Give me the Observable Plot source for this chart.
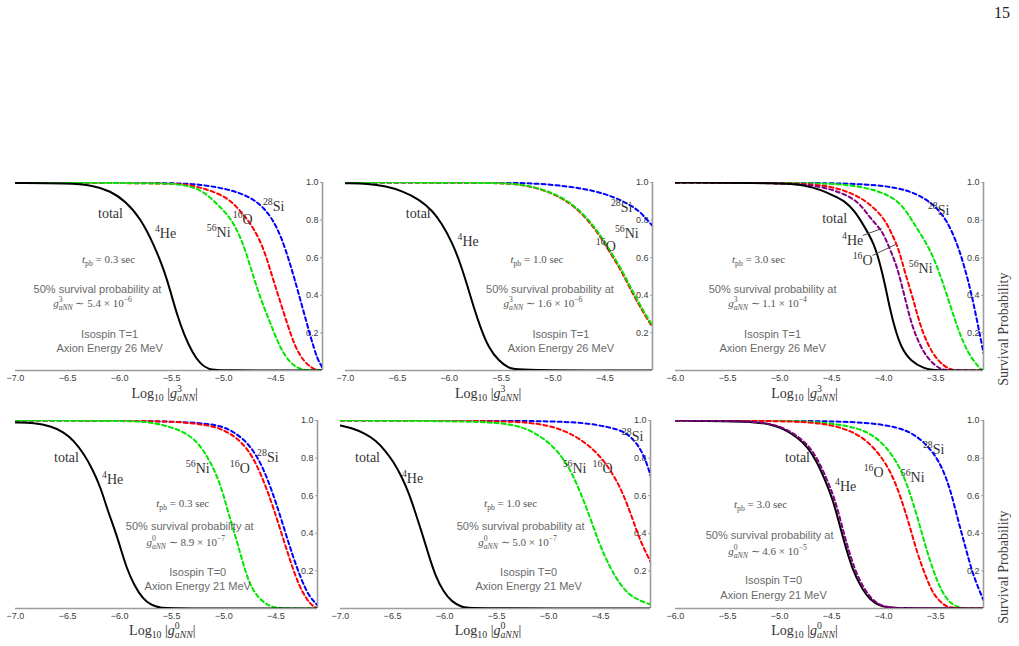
<!DOCTYPE html>
<html>
<head>
<meta charset="utf-8">
<script src="https://cdn.jsdelivr.net/npm/d3@7"></script>
<script src="https://cdn.jsdelivr.net/npm/@observablehq/plot@0.6"></script>
<style>
  html, body { margin: 0; background: #fff; }
  #page { position: relative; width: 1019px; height: 646px; background: #fff; overflow: hidden; }
  #page > svg { position: absolute; }
  #pageno { position: absolute; right: 9px; top: 4px; font: 16px "Liberation Serif", "Times New Roman", serif; color: #222; }
</style>
</head>
<body>
<div id="page"><div id="pageno">15</div></div>
<script>
// ---------------------------------------------------------------
// Survival probability vs. log10 of the axion-nucleon coupling,
// pairs are [log10 |g|, probability].
// ---------------------------------------------------------------

// Isospin T=1, axion energy 26 MeV, t_pb = 0.3 s
const T1_03_total = [[-7,0.997],[-6.5,0.996],[-6.25,0.985],[-6.09,0.955],[-5.94,0.90],[-5.80,0.81],[-5.67,0.67],[-5.57,0.53],[-5.51,0.42],[-5.45,0.30],[-5.38,0.19],[-5.30,0.094],[-5.22,0.032],[-5.14,0.005],[-5.05,0],[-4.05,0]];
const T1_03_Ni56 = [[-7,1],[-5.6,0.997],[-5.41,0.99],[-5.22,0.965],[-5.09,0.90],[-4.96,0.83],[-4.87,0.75],[-4.79,0.64],[-4.71,0.49],[-4.63,0.36],[-4.55,0.25],[-4.45,0.11],[-4.36,0.04],[-4.28,0.01],[-4.2,0],[-4.05,0]];
const T1_03_O16 = [[-7,1],[-5.54,0.996],[-5.35,0.99],[-5.16,0.965],[-4.96,0.92],[-4.84,0.85],[-4.71,0.76],[-4.61,0.64],[-4.55,0.53],[-4.47,0.39],[-4.39,0.25],[-4.31,0.12],[-4.23,0.05],[-4.16,0.015],[-4.1,0.002],[-4.05,0]];
const T1_03_Si28 = [[-7,1],[-5.5,0.999],[-5.22,0.99],[-4.96,0.965],[-4.77,0.93],[-4.61,0.87],[-4.48,0.76],[-4.39,0.62],[-4.32,0.49],[-4.24,0.33],[-4.16,0.17],[-4.10,0.06],[-4.05,0.015]];

// Isospin T=1, t_pb = 1.0 s
const T1_10_total = [[-7,0.996],[-6.78,0.995],[-6.61,0.98],[-6.45,0.955],[-6.29,0.91],[-6.16,0.85],[-6.07,0.78],[-5.97,0.68],[-5.89,0.565],[-5.83,0.46],[-5.76,0.33],[-5.70,0.23],[-5.62,0.12],[-5.52,0.05],[-5.43,0.014],[-5.35,0],[-4.04,0]];
const T1_10_O16 = [[-7,1],[-5.75,0.999],[-5.5,0.996],[-5.31,0.99],[-5.11,0.965],[-4.92,0.92],[-4.79,0.87],[-4.66,0.80],[-4.54,0.71],[-4.44,0.62],[-4.34,0.53],[-4.26,0.44],[-4.18,0.36],[-4.12,0.30],[-4.04,0.23]];
const T1_10_Ni56 = [[-7,1],[-5.75,0.999],[-5.49,0.996],[-5.30,0.99],[-5.10,0.965],[-4.91,0.92],[-4.78,0.87],[-4.65,0.80],[-4.53,0.71],[-4.43,0.62],[-4.33,0.53],[-4.25,0.44],[-4.17,0.36],[-4.11,0.30],[-4.04,0.24]];
const T1_10_Si28 = [[-7,1],[-5.5,0.999],[-5.17,0.996],[-4.85,0.98],[-4.59,0.955],[-4.40,0.92],[-4.27,0.885],[-4.17,0.85],[-4.09,0.80],[-4.04,0.77]];

// Isospin T=1, t_pb = 3.0 s
const T1_30_total = [[-6,1],[-4.95,0.997],[-4.75,0.985],[-4.6,0.96],[-4.48,0.93],[-4.38,0.904],[-4.28,0.85],[-4.19,0.771],[-4.09,0.674],[-4.03,0.559],[-3.98,0.44],[-3.94,0.33],[-3.89,0.22],[-3.83,0.12],[-3.74,0.05],[-3.61,0.01],[-3.52,0],[-3.04,0]];
const T1_30_He4 = [[-6,1],[-4.9,0.998],[-4.61,0.98],[-4.41,0.947],[-4.24,0.9],[-4.13,0.81],[-4.03,0.754],[-3.98,0.70],[-3.92,0.62],[-3.87,0.55],[-3.80,0.40],[-3.74,0.26],[-3.66,0.14],[-3.56,0.05],[-3.45,0.005],[-3.39,0],[-3.04,0]];
const T1_30_O16 = [[-6,1],[-4.8,0.998],[-4.51,0.98],[-4.32,0.947],[-4.16,0.9],[-4.0,0.816],[-3.92,0.727],[-3.85,0.638],[-3.80,0.53],[-3.72,0.39],[-3.66,0.26],[-3.58,0.14],[-3.48,0.05],[-3.37,0.005],[-3.30,0],[-3.04,0]];
const T1_30_Ni56 = [[-6,1],[-4.7,0.998],[-4.35,0.99],[-4.06,0.96],[-3.85,0.903],[-3.74,0.81],[-3.66,0.74],[-3.55,0.64],[-3.47,0.53],[-3.39,0.40],[-3.31,0.26],[-3.23,0.14],[-3.15,0.06],[-3.07,0.008],[-3.04,0]];
const T1_30_Si28 = [[-6,1],[-4.6,0.999],[-4.13,0.99],[-3.87,0.973],[-3.68,0.94],[-3.52,0.885],[-3.39,0.80],[-3.29,0.67],[-3.23,0.565],[-3.16,0.42],[-3.10,0.26],[-3.04,0.094]];

// Isospin T=0, axion energy 21 MeV, t_pb = 0.3 s
const T0_03_total = [[-7,0.99],[-6.82,0.988],[-6.66,0.97],[-6.54,0.94],[-6.44,0.894],[-6.34,0.82],[-6.26,0.74],[-6.18,0.64],[-6.12,0.53],[-6.05,0.425],[-5.99,0.32],[-5.93,0.21],[-5.86,0.124],[-5.78,0.053],[-5.70,0.018],[-5.61,0.003],[-5.5,0],[-4.1,0]];
const T0_03_Ni56 = [[-7,1],[-5.86,0.998],[-5.70,0.99],[-5.54,0.97],[-5.38,0.94],[-5.25,0.885],[-5.16,0.81],[-5.08,0.726],[-5.01,0.62],[-4.95,0.496],[-4.88,0.37],[-4.82,0.25],[-4.76,0.14],[-4.68,0.062],[-4.58,0.018],[-4.50,0],[-4.1,0]];
const T0_03_O16 = [[-7,1],[-5.7,0.999],[-5.38,0.99],[-5.22,0.98],[-5.06,0.965],[-4.90,0.92],[-4.77,0.85],[-4.68,0.76],[-4.60,0.655],[-4.52,0.53],[-4.44,0.39],[-4.36,0.25],[-4.28,0.124],[-4.20,0.044],[-4.14,0.01],[-4.1,0.003]];
const T0_03_Si28 = [[-7,1],[-5.7,0.999],[-5.22,0.988],[-5.03,0.972],[-4.90,0.94],[-4.76,0.876],[-4.66,0.79],[-4.58,0.69],[-4.50,0.566],[-4.42,0.425],[-4.34,0.283],[-4.26,0.16],[-4.18,0.062],[-4.10,0.018]];

// Isospin T=0, t_pb = 1.0 s
const T0_10_total = [[-7,0.973],[-6.89,0.96],[-6.76,0.93],[-6.66,0.894],[-6.57,0.84],[-6.49,0.78],[-6.41,0.70],[-6.34,0.61],[-6.28,0.51],[-6.21,0.39],[-6.15,0.28],[-6.09,0.177],[-6.01,0.088],[-5.93,0.035],[-5.83,0.007],[-5.77,0],[-4.02,0]];
const T0_10_Ni56 = [[-7,1],[-5.61,0.996],[-5.38,0.98],[-5.22,0.96],[-5.06,0.91],[-4.93,0.85],[-4.80,0.75],[-4.71,0.64],[-4.61,0.50],[-4.52,0.354],[-4.42,0.23],[-4.32,0.133],[-4.23,0.075],[-4.12,0.04],[-4.02,0.022]];
const T0_10_O16 = [[-7,1],[-5.5,0.998],[-5.19,0.99],[-4.96,0.97],[-4.74,0.92],[-4.55,0.84],[-4.42,0.75],[-4.32,0.655],[-4.24,0.55],[-4.16,0.425],[-4.10,0.336],[-4.02,0.25]];
const T0_10_Si28 = [[-7,1],[-5.4,0.999],[-5.0,0.996],[-4.64,0.988],[-4.42,0.965],[-4.26,0.94],[-4.16,0.885],[-4.08,0.814],[-4.02,0.708]];

// Isospin T=0, t_pb = 3.0 s
const T0_30_total = [[-6,1],[-5.25,0.996],[-5.09,0.98],[-4.96,0.956],[-4.83,0.91],[-4.73,0.86],[-4.64,0.78],[-4.56,0.68],[-4.49,0.584],[-4.43,0.46],[-4.37,0.336],[-4.30,0.21],[-4.22,0.115],[-4.13,0.044],[-4.03,0.012],[-3.93,0],[-3.04,0]];
const T0_30_He4 = [[-6,1],[-5.25,0.997],[-5.07,0.98],[-4.94,0.956],[-4.81,0.91],[-4.71,0.86],[-4.62,0.78],[-4.54,0.68],[-4.47,0.584],[-4.41,0.46],[-4.35,0.336],[-4.28,0.21],[-4.20,0.115],[-4.11,0.044],[-4.01,0.012],[-3.91,0],[-3.04,0]];
const T0_30_O16 = [[-6,1],[-5.0,0.998],[-4.70,0.99],[-4.51,0.977],[-4.32,0.947],[-4.16,0.894],[-4.03,0.814],[-3.93,0.726],[-3.84,0.60],[-3.76,0.46],[-3.68,0.30],[-3.60,0.177],[-3.52,0.07],[-3.42,0.018],[-3.36,0],[-3.04,0]];
const T0_30_Ni56 = [[-6,1],[-5.0,0.999],[-4.70,0.995],[-4.45,0.98],[-4.25,0.96],[-4.09,0.92],[-3.96,0.85],[-3.84,0.75],[-3.76,0.637],[-3.68,0.496],[-3.60,0.336],[-3.52,0.195],[-3.44,0.088],[-3.36,0.027],[-3.28,0.005],[-3.2,0],[-3.04,0]];
const T0_30_Si28 = [[-6,1],[-4.9,0.999],[-4.45,0.995],[-4.13,0.988],[-3.87,0.965],[-3.71,0.93],[-3.58,0.867],[-3.48,0.796],[-3.40,0.70],[-3.34,0.593],[-3.28,0.46],[-3.21,0.32],[-3.15,0.195],[-3.08,0.097],[-3.04,0.044]];

// Tick values and annotation text
const xTicksWide = [-7, -6.5, -6, -5.5, -5, -4.5];
const xTicksLate = [-6, -5.5, -5, -4.5, -4, -3.5];
const yTicks = [0.2, 0.4, 0.6, 0.8, 1.0];
const tpbValues = ["0.3", "1.0", "3.0", "0.3", "1.0", "3.0"];
const g50Values = ["5.4 × 10^{−6}", "1.6 × 10^{−6}", "1.1 × 10^{−4}", "8.9 × 10^{−7}", "5.0 × 10^{−7}", "4.6 × 10^{−5}"];
const isospinRows = ["3", "3", "3", "0", "0", "0"];
const isospinText = {"3": "Isospin T=1", "0": "Isospin T=0"};
const energyText = {"3": "Axion Energy 26 MeV", "0": "Axion Energy 21 MeV"};
const speciesText = {total: "total", He4: "^{4}He", O16: "^{16}O", Si28: "^{28}Si", Ni56: "^{56}Ni"};

// ---------------------------------------------------------------
// Styling
// ---------------------------------------------------------------
const SANS = '"Liberation Sans", Arial, Helvetica, sans-serif';
const SERIF = '"Liberation Serif", "Times New Roman", serif';
const AXIS = "#9c9c9c";
const colors = {total: "#000000", He4: "#800080", O16: "#ff0000", Si28: "#0000ff", Ni56: "#00e600"};
const fmt1 = d3.format(".1f");

// Label placements (data coordinates) for each panel
const panels = [
  { box: [0, 170, 330, 240], margin: [12, 8, 40, 15], domain: [-7, -4.05], ticks: xTicksWide,
    curves: [["Si28", T1_03_Si28], ["O16", T1_03_O16], ["Ni56", T1_03_Ni56], ["total", T1_03_total]],
    species: [["total", -6.087, 0.835], ["He4", -5.558, 0.729], ["Ni56", -5.048, 0.734], ["O16", -4.817, 0.803], ["Si28", -4.519, 0.872]],
    notes: [[-6.106, 0.590], [-6.212, 0.431], [-6.26, 0.356], [-6.096, 0.191], [-6.096, 0.117]],
    titleX: -5.567, titleDy: 27, coupling: "3" },
  { box: [330, 170, 330, 240], margin: [12, 8, 40, 15], domain: [-7, -4.04], ticks: xTicksWide,
    curves: [["Si28", T1_10_Si28], ["O16", T1_10_O16], ["Ni56", T1_10_Ni56], ["total", T1_10_total]],
    species: [["total", -6.298, 0.835], ["He4", -5.817, 0.686], ["Si28", -4.337, 0.867], ["Ni56", -4.288, 0.729], ["O16", -4.49, 0.660]],
    notes: [[-5.154, 0.590], [-5.029, 0.431], [-5.096, 0.356], [-4.923, 0.191], [-4.923, 0.117]],
    titleX: -5.625, titleDy: 27, coupling: "3" },
  { box: [660, 170, 359, 240], margin: [12, 36, 40, 15], domain: [-6, -3.04], ticks: xTicksLate,
    curves: [["Si28", T1_30_Si28], ["Ni56", T1_30_Ni56], ["O16", T1_30_O16], ["He4", T1_30_He4], ["total", T1_30_total]],
    species: [["total", -4.471, 0.809], ["Si28", -3.471, 0.851], ["He4", -4.298, 0.691], ["O16", -4.202, 0.585], ["Ni56", -3.644, 0.543]],
    leaders: [[-4.20, 0.718, -4.019, 0.755], [-4.106, 0.612, -3.885, 0.670]],
    notes: [[-5.202, 0.590], [-5.067, 0.431], [-5.115, 0.356], [-5.067, 0.191], [-5.067, 0.117]],
    titleX: -4.76, titleDy: 27, coupling: "3", yLabel: true },
  { box: [0, 408, 330, 238], margin: [12, 13, 38, 15], domain: [-7, -4.1], ticks: xTicksWide,
    curves: [["Si28", T0_03_Si28], ["O16", T0_03_O16], ["Ni56", T0_03_Ni56], ["total", T0_03_total]],
    species: [["total", -6.51, 0.803], ["He4", -6.067, 0.686], ["Ni56", -5.25, 0.745], ["O16", -4.846, 0.745], ["Si28", -4.577, 0.803]],
    notes: [[-5.394, 0.559], [-5.327, 0.436], [-5.365, 0.351], [-5.25, 0.191], [-5.25, 0.117]],
    titleX: -5.59, titleDy: 26, coupling: "0" },
  { box: [330, 408, 330, 238], margin: [12, 10, 38, 10], domain: [-7, -4.02], ticks: xTicksWide,
    curves: [["Si28", T0_10_Si28], ["O16", T0_10_O16], ["Ni56", T0_10_Ni56], ["total", T0_10_total]],
    species: [["total", -6.74, 0.803], ["He4", -6.308, 0.691], ["Si28", -4.192, 0.915], ["Ni56", -4.75, 0.745], ["O16", -4.481, 0.745]],
    notes: [[-5.365, 0.559], [-5.269, 0.436], [-5.298, 0.351], [-5.192, 0.191], [-5.192, 0.117]],
    titleX: -5.582, titleDy: 26, coupling: "0" },
  { box: [660, 408, 359, 238], margin: [12, 36, 38, 15], domain: [-6, -3.04], ticks: xTicksLate,
    curves: [["Si28", T0_30_Si28], ["Ni56", T0_30_Ni56], ["O16", T0_30_O16], ["total", T0_30_total], ["He4", T0_30_He4]],
    species: [["total", -4.827, 0.803], ["He4", -4.365, 0.649], ["O16", -4.096, 0.723], ["Ni56", -3.721, 0.697], ["Si28", -3.519, 0.846]],
    notes: [[-5.183, 0.553], [-5.096, 0.388], [-5.115, 0.303], [-5.058, 0.149], [-5.058, 0.069]],
    titleX: -4.76, titleDy: 26, coupling: "0", yLabel: true }
];

// ---------------------------------------------------------------
// Minimal math-text markup: *{..} italic, ^{..} superscript,
// _{..} subscript; a subscript right after a superscript is stacked.
// ---------------------------------------------------------------
function parseMarkup(src) {
  const runs = [];
  function walk(str, st) {
    let i = 0, buf = "", last = null;
    const flush = () => { if (buf) { runs.push({...st, text: buf}); buf = ""; last = null; } };
    while (i < str.length) {
      const c = str[i];
      if ((c === "^" || c === "_" || c === "*") && str[i + 1] === "{") {
        flush();
        let depth = 1, j = i + 2;
        while (j < str.length && depth) { if (str[j] === "{") depth++; else if (str[j] === "}") depth--; j++; }
        const inner = str.slice(i + 2, j - 1);
        const start = runs.length;
        if (c === "*") walk(inner, {...st, italic: true});
        else walk(inner, {...st, level: c === "^" ? "sup" : "sub"});
        if (c === "_" && last && last.type === "^" && last.end === start && runs[start]) runs[start].stackFrom = [last.start, last.end];
        last = {type: c, start, end: runs.length};
        i = j;
      } else { buf += c; i++; }
    }
    flush();
  }
  walk(src, {italic: false, level: null});
  return runs;
}

function renderMarkup(svg) {
  const NS = "http://www.w3.org/2000/svg";
  svg.querySelectorAll("text").forEach(t => {
    const src = t.textContent;
    if (!/[\^_*]\{/.test(src)) return;
    const fs = parseFloat(getComputedStyle(t).fontSize) || 12;
    const runs = parseMarkup(src);
    t.textContent = "";
    let cur = 0;
    const els = runs.map(r => {
      const ts = document.createElementNS(NS, "tspan");
      const target = r.level === "sup" ? -0.42 * fs : r.level === "sub" ? 0.26 * fs : 0;
      if (target !== cur) ts.setAttribute("dy", target - cur);
      cur = target;
      if (r.level) ts.setAttribute("font-size", 0.7 * fs);
      if (r.italic) ts.setAttribute("font-style", "italic");
      ts.textContent = r.text;
      t.appendChild(ts);
      return ts;
    });
    runs.forEach((r, k) => {
      if (!r.stackFrom) return;
      let w = 0;
      for (let m = r.stackFrom[0]; m < r.stackFrom[1]; m++) w += els[m].getComputedTextLength();
      els[k].setAttribute("dx", -w);
    });
  });
}

// ---------------------------------------------------------------
// Draw the six panels
// ---------------------------------------------------------------
const page = document.getElementById("page");

panels.forEach((p, idx) => {
  const [left, top, width, height] = p.box;
  const [mT, mR, mB, mL] = p.margin;
  const xmax = p.domain[1];
  const gSym = p.coupling;
  const serifNotes = [
    {x: p.notes[0][0], y: p.notes[0][1], text: `*{t}_{pb} = ${tpbValues[idx]} sec`},
    {x: p.notes[2][0], y: p.notes[2][1], text: `*{g}^{${gSym}}_{*{aNN}} ∼ ${g50Values[idx]}`}
  ];
  const sansNotes = [
    {x: p.notes[1][0], y: p.notes[1][1], text: "50% survival probability at"},
    {x: p.notes[3][0], y: p.notes[3][1], text: isospinText[isospinRows[idx]]},
    {x: p.notes[4][0], y: p.notes[4][1], text: energyText[isospinRows[idx]]}
  ];
  const speciesLabels = p.species.map(([sp, x, y]) => ({x, y, text: speciesText[sp]}));

  const marks = [
    Plot.ruleY([0], {stroke: AXIS, strokeWidth: 1.6}),
    Plot.ruleX([xmax], {stroke: AXIS, strokeWidth: 1.6}),
    Plot.ruleY(yTicks, {x1: xmax - 0.018, x2: xmax, stroke: AXIS, strokeWidth: 1}),
    Plot.axisX({ticks: p.ticks, tickSize: 0, tickPadding: 4, tickFormat: fmt1, label: null, fontSize: 9}),
    Plot.axisY({anchor: "right", ticks: yTicks, tickSize: 0, tickPadding: 0, dx: -4, textAnchor: "end", tickFormat: fmt1, label: null, fontSize: 9})
  ];
  for (const [sp, data] of p.curves) {
    marks.push(Plot.line(data, {
      x: d => d[0], y: d => d[1], stroke: colors[sp],
      strokeWidth: 2, strokeDasharray: sp === "total" ? null : "4,3",
      curve: "basis", clip: true
    }));
  }
  if (p.leaders) {
    marks.push(Plot.link(p.leaders, {x1: d => d[0], y1: d => d[1], x2: d => d[2], y2: d => d[3], stroke: "#4a4a4a", strokeWidth: 1}));
  }
  marks.push(Plot.text(speciesLabels, {x: "x", y: "y", text: "text", fontFamily: SERIF, fontSize: 14, fill: "#333"}));
  marks.push(Plot.text(serifNotes, {x: "x", y: "y", text: "text", fontFamily: SERIF, fontSize: 11, fill: "#555"}));
  marks.push(Plot.text(sansNotes, {x: "x", y: "y", text: "text", fontFamily: SANS, fontSize: 11, fill: "#6a6a6a"}));
  marks.push(Plot.text([{x: p.titleX, text: `Log_{10} |*{g}^{${gSym}}_{*{aNN}}|`}],
    {x: "x", text: "text", frameAnchor: "bottom", dy: p.titleDy, fontFamily: SERIF, fontSize: 14, fill: "#333"}));
  if (p.yLabel) {
    marks.push(Plot.text([{text: "Survival Probability"}],
      {text: "text", frameAnchor: "right", dx: 20, dy: -4, rotate: -90, fontFamily: SERIF, fontSize: 14, fill: "#444"}));
  }

  const svg = Plot.plot({
    width, height,
    marginTop: mT, marginRight: mR, marginBottom: mB, marginLeft: mL,
    x: {domain: p.domain},
    y: {domain: [0, 1]},
    style: {fontFamily: SANS, fontSize: "9px", color: "#3c3c3c", background: "transparent", overflow: "visible"},
    marks
  });
  svg.style.left = left + "px";
  svg.style.top = top + "px";
  page.appendChild(svg);
  renderMarkup(svg);
});
</script>
</body>
</html>
